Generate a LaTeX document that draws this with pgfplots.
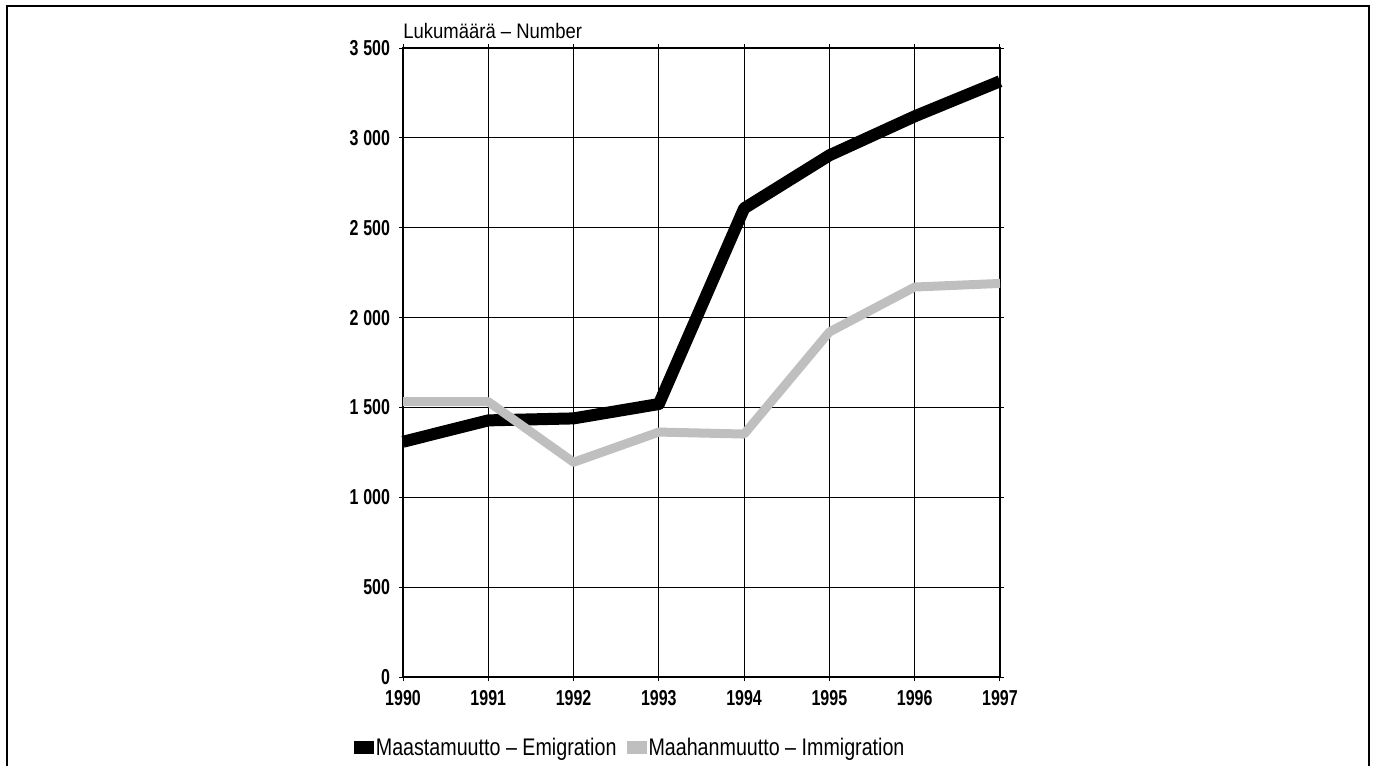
\documentclass[border=0pt]{standalone}
\usepackage{pgfplots}
\pgfplotsset{compat=1.18}
\usepackage{fontspec}
\setmainfont{Liberation Sans}
\newfontfamily\cond{Liberation Sans}[FakeStretch=0.74]
\newfontfamily\legf{Liberation Sans}[FakeStretch=0.82]
\newfontfamily\titf{Liberation Sans}[FakeStretch=0.88]
\begin{document}
\begin{tikzpicture}
\useasboundingbox (0pt,0pt) rectangle (687pt,-383pt);
\draw[line width=0.7pt] (3.5pt,-383pt) -- (3.5pt,-3pt) -- (684.5pt,-3pt) -- (684.5pt,-383pt);
\begin{axis}[
  at={(201.5pt,-338.5pt)}, anchor=south west,
  scale only axis, width=298.5pt, height=314.5pt,
  xmin=1990, xmax=1997, ymin=0, ymax=3500,
  xtick={1990,...,1997},
  xticklabels={1990,1991,1992,1993,1994,1995,1996,1997},
  ytick={0,500,...,3500},
  yticklabels={0,500,1\kern2.4pt000,1\kern2.4pt500,2\kern2.4pt000,2\kern2.4pt500,3\kern2.4pt000,3\kern2.4pt500},
  grid=major,
  major grid style={black, line width=0.5pt},
  axis line style={black, line width=0.6pt},
  tick align=outside, major tick length=2pt,
  tick style={black, line width=0.5pt},
  ticklabel style={font=\cond\bfseries\fontsize{10.8}{12}\selectfont},
  /pgf/number format/assume math mode=true,
  yticklabel style={xshift=-1pt},
  xticklabel style={yshift=-1pt},
  clip=false,
  legend columns=2,
  legend style={at={(rel axis cs:-0.083,-0.113)}, anchor=west, draw=none, fill=none,
    font=\legf\fontsize{12}{14}\selectfont, column sep=0pt, inner sep=0pt,
    nodes={inner sep=1pt},
    /tikz/every even column/.append style={column sep=4pt}},
  legend cell align=left,
  legend image code/.code={\fill[#1, draw=none, line width=0pt] (0pt,-3.2pt) rectangle (10pt,3.4pt);},
]
\addplot[black, line width=6pt, line join=round] coordinates {
(1990,1309) (1991,1428) (1992,1439) (1993,1519) (1994,2608) (1995,2903) (1996,3120) (1997,3315)};
\addlegendentry{Maastamuutto – Emigration}
\addplot[gray!50, line width=4.5pt, line join=round] coordinates {
(1990,1532) (1991,1532) (1992,1195) (1993,1363) (1994,1352) (1995,1920) (1996,2170) (1997,2190)};
\addlegendentry{Maahanmuutto – Immigration}
\node[anchor=base west, inner sep=0pt, font=\titf\fontsize{10.5}{12}\selectfont] at (rel axis cs:0,1) [yshift=5pt] {Lukumäärä – Number};
\end{axis}
\end{tikzpicture}
\end{document}
